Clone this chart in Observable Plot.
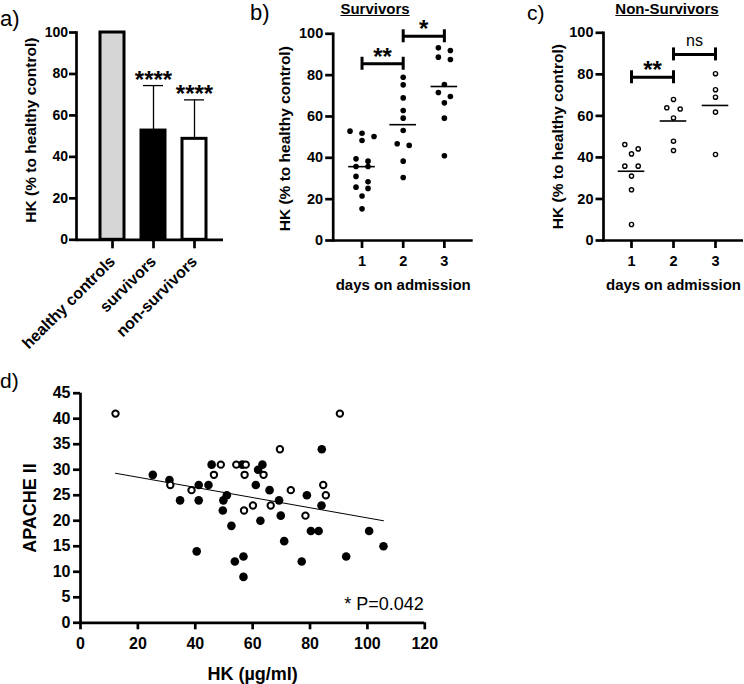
<!DOCTYPE html>
<html><head><meta charset="utf-8">
<script src="https://cdn.jsdelivr.net/npm/d3@7"></script>
<script src="https://cdn.jsdelivr.net/npm/@observablehq/plot@0.6"></script>
<style>
body{margin:0;background:#fff;}
#root{position:relative;width:744px;height:684px;font-family:"Liberation Sans",Arial,Helvetica,sans-serif;color:#000;overflow:hidden;background:#fff}
.p{position:absolute}
.lbl{position:absolute;font-size:22px;line-height:1.2;white-space:nowrap}
.ttl{position:absolute;font-size:15px;font-weight:bold;text-decoration:underline;line-height:1.2;transform:translateX(-50%);white-space:nowrap}
</style></head><body>
<div id="root">
  <div class="p" id="pa" style="left:0;top:0"></div>
  <div class="p" id="pb" style="left:250px;top:0"></div>
  <div class="p" id="pc" style="left:500px;top:0"></div>
  <div class="p" id="pd" style="left:0;top:340px"></div>
  <div class="lbl" style="left:0;top:6px">a)</div>
  <div class="lbl" style="left:250px;top:0px">b)</div>
  <div class="lbl" style="left:527px;top:0px;font-size:21px">c)</div>
  <div class="lbl" style="left:0;top:368px;font-size:21px">d)</div>
  <div class="ttl" style="left:375px;top:0px">Survivors</div>
  <div class="ttl" style="left:667px;top:0px">Non-Survivors</div>
</div>
<script>
// ---------- DATA ----------
// Panel a
const groupNames = ["healthy controls", "survivors", "non-survivors"];
const groupMean  = [100, 52.7, 48.7];
const groupUpper = [null, 74.4, 67.5];
const groupSig   = ["", "****", "****"];
const pctTicks   = [0, 20, 40, 60, 80, 100];
const pctLabel   = "HK (% to healthy control)";

// Panel b (survivors, % of healthy control by day)
const survDay1 = [52.9, 51.9, 50.3, 48.4, 39.5, 38.4, 35.8, 35.8, 31.0, 28.4, 25.8, 25.2, 21.5, 15.3];
const survDay2 = [79.0, 75.3, 69.0, 62.9, 59.2, 53.2, 46.8, 46.0, 38.4, 30.5];
const survDay3 = [93.2, 91.9, 88.7, 87.6, 75.5, 71.6, 69.7, 66.6, 59.2, 41.0];
const survBrFrom  = [1, 2];
const survBrTo    = [2, 3];
const survBrY     = [85.5, 98.8];
const survBrLabel = ["**", "*"];

// Panel c (non-survivors)
const nonDay1 = [46.2, 44.1, 41.7, 35.8, 35.8, 31.0, 24.4, 7.7];
const nonDay2 = [67.9, 63.9, 63.3, 59.0, 47.8, 43.3];
const nonDay3 = [80.3, 72.6, 69.0, 61.8, 41.4];
const nonBrFrom  = [1, 2];
const nonBrTo    = [2, 3];
const nonBrY     = [78.6, 89.6];
const nonBrLabel = ["**", "ns"];
const dayTicks = [1, 2, 3];
const dayLabel = "days on admission";

// Panel d
const survHK     = [25.2, 31.0, 34.7, 41.2, 41.2, 40.5, 44.6, 45.7, 49.8, 51.0, 49.6, 52.6, 53.8, 56.8, 56.8, 56.4, 61.9, 63.4, 61.1, 62.7, 65.9, 69.2, 69.8, 71.0, 77.1, 78.9, 80.3, 83.0, 84.0, 84.1, 92.6, 100.6, 105.6];
const survAPACHE = [29, 28, 24, 27, 24, 14, 27, 31, 24, 25, 22, 19, 12, 13, 9, 31, 30, 31, 27, 20, 26, 24, 21, 16, 12, 25, 18, 18, 23, 34, 13, 18, 15];
const nonHK      = [12.2, 31.3, 38.7, 46.5, 48.9, 54.3, 57.6, 57.2, 57.0, 60.1, 63.8, 66.3, 69.5, 73.3, 78.4, 84.6, 85.5, 90.4];
const nonAPACHE  = [41, 27, 26, 29, 31, 31, 31, 29, 22, 23, 29, 23, 34, 26, 21, 27, 25, 41];
const dTicksX = [0, 20, 40, 60, 80, 100, 120];
const dTicksY = [0, 5, 10, 15, 20, 25, 30, 35, 40, 45];
const dLabelX = "HK (µg/ml)";
const dLabelY = "APACHE II";
const pNote = "* P=0.042";

// ---------- HELPERS ----------
const FONT = '"Liberation Sans", Arial, Helvetica, sans-serif';
const AX = 2.7; // axis line width
function style(fs) {
  return {fontFamily: FONT, fontSize: fs + "px", fontWeight: "bold", color: "#000", background: "transparent", overflow: "visible"};
}
// Prism-like scatter layout: points of similar value share a row and are spread around the day
function swarm(values, day, pxY, pxX, rowPx, slotPx) {
  const sorted = [...values].sort((a, b) => b - a);
  const rows = [];
  for (const v of sorted) {
    const r = rows[rows.length - 1];
    if (r && (r[0] - v) * pxY < rowPx) r.push(v); else rows.push([v]);
  }
  const out = [];
  for (const r of rows) r.forEach((v, i) => out.push({day, value: v, xpos: day + (i - (r.length - 1) / 2) * slotPx / pxX}));
  return out;
}
function yTitle(label, dx, dy, fs) {
  return Plot.text([label], {text: d => d, frameAnchor: "left", textAnchor: "middle", lineAnchor: "middle", rotate: -90, dx, dy, fontSize: fs, fontWeight: "bold", fill: "#000"});
}
function xTitle(label, dy, fs) {
  return Plot.text([label], {text: d => d, frameAnchor: "bottom", textAnchor: "middle", lineAnchor: "middle", dy, fontSize: fs, fontWeight: "bold", fill: "#000"});
}

// ---------- PANEL A ----------
{
  const aData = groupNames.map((g, i) => ({group: g, mean: groupMean[i], upper: groupUpper[i], sig: groupSig[i]}));
  const aErr = aData.filter(d => d.upper != null);
  const chart = Plot.plot({
    width: 250, height: 340,
    marginLeft: 76, marginRight: 27, marginTop: 32, marginBottom: 100.7,
    style: style(14),
    x: {domain: groupNames, paddingInner: 0.37, paddingOuter: 0.47, align: 0.59, axis: null},
    y: {domain: [0, 100], axis: null},
    color: {domain: groupNames, range: ["#d6d6d6", "#000000", "#ffffff"]},
    marks: [
      Plot.ruleX(aErr, {x: "group", y1: "mean", y2: "upper", stroke: "#000", strokeWidth: 1.3}),
      Plot.tickY(aErr, {x: "group", y: "upper", stroke: "#000", strokeWidth: 1.3, insetLeft: 3, insetRight: 3}),
      Plot.barY(aData, {x: "group", y: "mean", fill: "group", stroke: "#000", strokeWidth: 3, insetLeft: 1, insetRight: 1}),
      Plot.text(aErr, {x: "group", y: "upper", text: "sig", lineAnchor: "bottom", dy: 2, fontSize: 24, fontWeight: "bold", fill: "#000"}),
      Plot.axisY({ticks: pctTicks, tickSize: 7, tickPadding: 1.5, strokeWidth: AX, label: null, fill: "#000"}),
      Plot.axisX({tickSize: 9, tickPadding: 10, tickRotate: -45, strokeWidth: AX, label: null, fontSize: 16, fill: "#000"}),
      Plot.ruleY([0], {strokeWidth: AX}),
      Plot.frame({anchor: "left", strokeWidth: AX}),
      yTitle(pctLabel, -45, -6, 15.5)
    ]
  });
  document.getElementById("pa").append(chart);
}

// ---------- PANELS B & C ----------
function dayPanel(el, days, brFrom, brTo, brY, brLabel, o) {
  const W = o.W, H = 300, mT = o.mT, mB = 60;
  const pad = o.pad;
  const xDom = [1 - pad, 3 + pad];
  const pxX = (W - o.mL - o.mR) / (xDom[1] - xDom[0]);
  const pxY = (H - mT - mB) / 100;
  const pts = days.flatMap((vals, i) => swarm(vals, i + 1, pxY, pxX, 6, o.slot));
  const means = days.map((vals, i) => ({day: i + 1, mean: d3.mean(vals)}));
  const hw = 13.3 / pxX;
  const cap = 6.5;
  const br = brFrom.map((f, i) => ({from: f, to: brTo[i], y: brY[i], label: brLabel[i]}));
  const brEnds = br.flatMap(d => [{x: d.from, y: d.y}, {x: d.to, y: d.y}]);
  const chart = Plot.plot({
    width: W, height: H,
    marginLeft: o.mL, marginRight: o.mR, marginTop: mT, marginBottom: mB,
    style: style(14.5),
    x: {domain: xDom, axis: null},
    y: {domain: [0, 100], axis: null},
    marks: [
      o.open
        ? Plot.dot(pts, {x: "xpos", y: "value", r: 2.1, fill: "#fff", stroke: "#000", strokeWidth: 1.4})
        : Plot.dot(pts, {x: "xpos", y: "value", r: 2.8, fill: "#000"}),
      Plot.ruleY(means, {y: "mean", x1: d => d.day - hw, x2: d => d.day + hw, stroke: "#000", strokeWidth: 1.6}),
      Plot.ruleY(br, {y: "y", x1: "from", x2: "to", stroke: "#000", strokeWidth: 3}),
      Plot.ruleX(brEnds, {x: "x", y1: "y", y2: "y", insetTop: -cap, insetBottom: -cap, stroke: "#000", strokeWidth: 3}),
      Plot.text(br.filter(d => d.label !== "ns"), {x: d => (d.from + d.to) / 2, y: "y", text: "label", lineAnchor: "bottom", dy: 1, fontSize: 24, fontWeight: "bold", fill: "#000"}),
      Plot.text(br.filter(d => d.label === "ns"), {x: d => (d.from + d.to) / 2, y: "y", text: "label", lineAnchor: "bottom", dy: -8, fontSize: 16, fontWeight: "normal", fill: "#000"}),
      Plot.axisY({ticks: pctTicks, tickSize: 7.5, tickPadding: 2.5, strokeWidth: AX, label: null, fill: "#000"}),
      Plot.axisX({ticks: dayTicks, tickFormat: d3.format("d"), tickSize: 8, tickPadding: 7, strokeWidth: AX, label: null, fill: "#000"}),
      Plot.ruleY([0], {strokeWidth: AX}),
      Plot.frame({anchor: "left", strokeWidth: AX}),
      yTitle(pctLabel, o.ydx, o.ydy, 15.5),
      xTitle(dayLabel, 45, 15)
    ]
  });
  document.getElementById(el).append(chart);
}
dayPanel("pb", [survDay1, survDay2, survDay3], survBrFrom, survBrTo, survBrY, survBrLabel,
  {W: 250, mL: 82.7, mR: 27.3, mT: 33.3, pad: 0.70, slot: 12, open: false, ydx: -48, ydy: 1.6});
dayPanel("pc", [nonDay1, nonDay2, nonDay3], nonBrFrom, nonBrTo, nonBrY, nonBrLabel,
  {W: 244, mL: 103, mR: 1, mT: 32.3, pad: 0.667, slot: 13.4, open: true, ydx: -45.5, ydy: 0});

// ---------- PANEL D ----------
{
  const dSurv = survHK.map((h, i) => ({hk: h, apache: survAPACHE[i]}));
  const dNon = nonHK.map((h, i) => ({hk: h, apache: nonAPACHE[i]}));
  const dAll = dSurv.concat(dNon);
  const chart = Plot.plot({
    width: 440, height: 344,
    marginLeft: 80, marginRight: 15.7, marginTop: 52.7, marginBottom: 61.7,
    style: style(16),
    x: {domain: [0, 120], axis: null},
    y: {domain: [0, 45], axis: null},
    marks: [
      Plot.linearRegressionY(dAll, {x: "hk", y: "apache", stroke: "#000", strokeWidth: 1, ci: 0}),
      Plot.dot(dSurv, {x: "hk", y: "apache", r: 4.3, fill: "#000"}),
      Plot.dot(dNon, {x: "hk", y: "apache", r: 3.2, fill: "#fff", stroke: "#000", strokeWidth: 2}),
      Plot.text([pNote], {text: d => d, frameAnchor: "bottom-right", textAnchor: "end", lineAnchor: "middle", dx: -1, dy: -19, fontSize: 18, fontWeight: "normal", fill: "#000"}),
      Plot.axisY({ticks: dTicksY, tickSize: 7, tickPadding: 3, strokeWidth: AX, label: null, fill: "#000"}),
      Plot.axisX({ticks: dTicksX, tickSize: 7, tickPadding: 8, strokeWidth: AX, label: null, fill: "#000"}),
      Plot.ruleY([0], {strokeWidth: AX}),
      Plot.ruleX([0], {strokeWidth: AX}),
      yTitle(dLabelY, -50, 0, 18),
      xTitle(dLabelX, 51, 18)
    ]
  });
  document.getElementById("pd").append(chart);
}
</script>
</body></html>
